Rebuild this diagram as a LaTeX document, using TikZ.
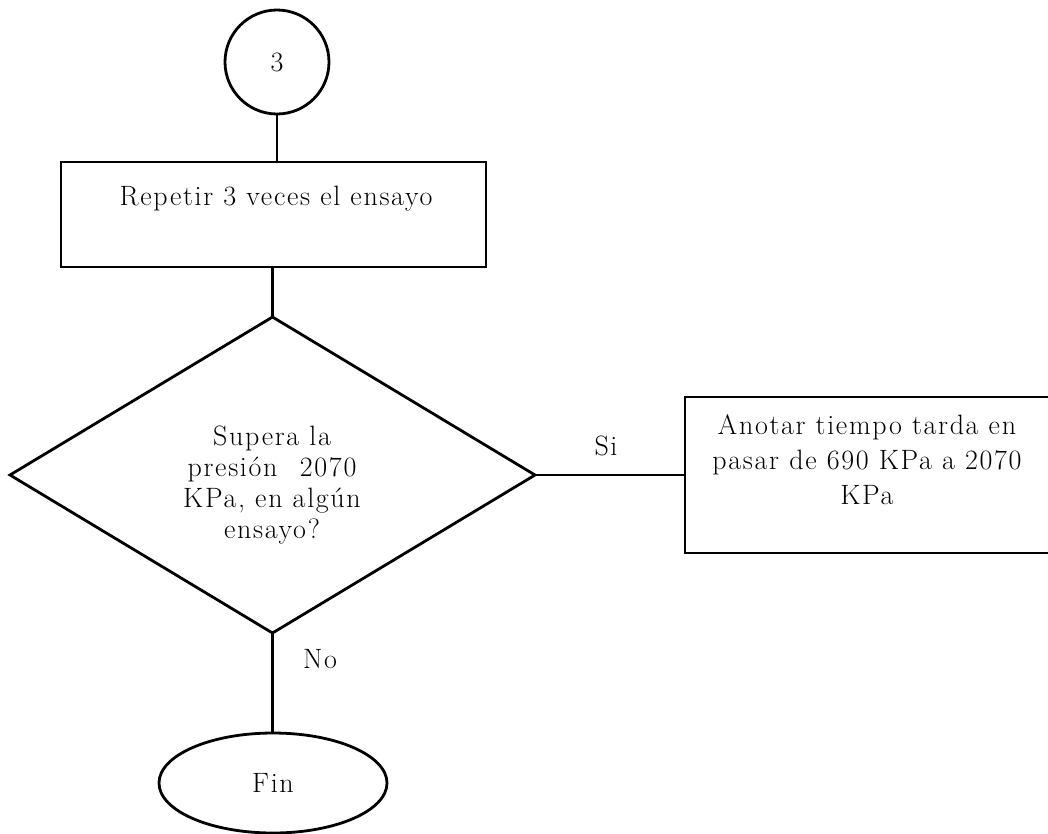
\documentclass[tikz,border=0pt]{standalone}
\usepackage{fontspec}
\setmainfont{Latin Modern Roman}[LetterSpace=6]
\usetikzlibrary{shapes.geometric}
\newcommand{\flowfont}[1]{\fontsize{28}{#1}\selectfont}
\begin{document}
\begin{tikzpicture}[x=1pt,y=-1pt,
  line width=2.8pt,
  every node/.style={font=\flowfont{31}, inner sep=0pt, outer sep=0pt},
  box/.style={draw, rectangle},
  decision/.style={draw, diamond},
  terminal/.style={draw, ellipse},
  connector/.style={draw, circle},
  lbl/.style={align=center}]
\useasboundingbox (0,0) rectangle (1048,833);

% connector circle and process box
\node[connector, minimum size=104pt] (c3) at (277,62) {3};
\node[box, minimum width=425pt, minimum height=105pt] (rep) at (273.5,214.5) {};
\node[lbl] (reptxt) at (276,199) {Repetir 3 veces el ensayo};

% decision
\node[decision, minimum width=525pt, minimum height=316pt] (dec) at (272.5,475) {};
\node[lbl] (dectxt) at (272,485) {Supera la\\presión\hspace{0.8em}2070\\KPa, en algún\\ensayo?};

% "yes" branch box (runs past the right edge)
\node[box, minimum width=366pt, minimum height=156pt] (anot) at (868,475) {};
\node[lbl, font=\flowfont{35}] (anottxt) at (867,460) {Anotar tiempo tarda en\\pasar de 690 KPa a 2070\\KPa};

% end
\node[terminal, minimum width=228pt, minimum height=100pt] (fin) at (273,783) {Fin};

% connectors
\draw (c3.south) -- (c3.south |- rep.north);
\draw (dec.north |- rep.south) -- (dec.north);
\draw (dec.east) -- (dec.east -| anot.west);
\draw (dec.south) -- (dec.south |- fin.north);

% branch labels
\node (si) at (606,446) {Si};
\node (no) at (320,659) {No};
\end{tikzpicture}
\end{document}
